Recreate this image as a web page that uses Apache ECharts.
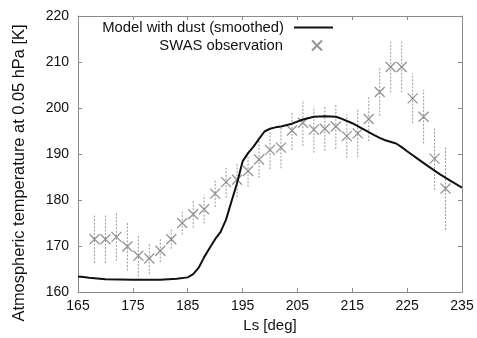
<!DOCTYPE html>
<html>
<head>
<meta charset="utf-8">
<script src="https://cdn.jsdelivr.net/npm/echarts@6/dist/echarts.min.js"></script>
<style>
  html, body { margin: 0; padding: 0; background: #fff; }
  #chart { width: 477px; height: 338px; }
</style>
</head>
<body>
<div id="chart"></div>
<script>
// model curve (smoothed)
var modelLs = [165, 166, 167, 168, 170, 175, 180, 183, 185, 186, 187, 188, 189, 190, 191, 192, 193, 194, 195, 196,
  197, 198, 199, 200, 201, 202, 204, 206, 208, 210, 212, 213, 215, 217, 219, 220, 221, 223, 224, 225, 227, 229, 231, 233, 235];
var modelT = [163.4, 163.3, 163.1, 163.0, 162.8, 162.7, 162.7, 162.9, 163.2, 163.9, 165.3, 167.6, 169.6, 171.5, 173.1, 175.8, 179.8, 183.7, 188.4, 190.2,
  191.6, 193.3, 194.9, 195.5, 195.8, 196.0, 196.6, 197.5, 198.1, 198.2, 198.1, 197.7, 196.7, 195.4, 194.1, 193.5, 193.0, 192.3, 191.5, 190.6, 188.9, 187.2, 185.6, 184.1, 182.7];

// SWAS observation
var obsLs = [168, 170, 172, 174, 176, 178, 180, 182, 184, 186, 188, 190, 192, 194, 196, 198, 200,
  202, 204, 206, 208, 210, 212, 214, 216, 218, 220, 222, 224, 226, 228, 230, 232];
var obsT = [171.5, 171.5, 172.0, 169.9, 167.9, 167.3, 169.0, 171.5, 175.0, 176.9, 178.0, 181.4, 183.9, 184.4, 186.3, 188.8, 190.9,
  191.4, 195.1, 196.8, 195.3, 195.5, 196.0, 193.9, 194.5, 197.6, 203.5, 208.9, 208.9, 202.1, 198.1, 189.0, 182.5];
var obsErr = [5.2, 5.2, 5.2, 5.2, 4.5, 3.4, 2.5, 2.1, 2.5, 2.9, 3.1, 2.9, 3.4, 3.8, 3.4, 4.0, 4.2,
  4.5, 4.2, 5.0, 5.0, 4.8, 4.9, 4.7, 5.2, 4.8, 5.2, 5.5, 5.5, 5.4, 5.8, 6.8, 9.0];

var xTicks = [165, 175, 185, 195, 205, 215, 225, 235];

var modelData = [];
for (var i = 0; i < modelLs.length; i++) {
  modelData.push([modelLs[i], modelT[i]]);
}
var obsData = [];
var errData = [];
for (var j = 0; j < obsLs.length; j++) {
  obsData.push([obsLs[j], obsT[j]]);
  errData.push([obsLs[j], obsT[j] - obsErr[j], obsT[j] + obsErr[j]]);
}

var font = "'Liberation Sans', Arial, sans-serif";
var frame = '#8a8a8a';

var myChart = echarts.init(document.getElementById('chart'));
myChart.setOption({
  animation: false,
  textStyle: { fontFamily: font },
  grid: { left: 78, right: 15, top: 16, bottom: 45 },
  legend: [{
    data: [{ name: 'Model with dust (smoothed)', icon: 'rect' }],
    orient: 'vertical',
    align: 'right',
    right: 139,
    top: 15,
    itemWidth: 39,
    itemHeight: 2,
    itemStyle: { color: '#111' },
    textStyle: { fontSize: 14.8, color: '#111', fontFamily: font, padding: [0, 5, 0, 0] }
  }, {
    data: ['SWAS observation'],
    orient: 'vertical',
    align: 'right',
    right: 149,
    top: 33,
    itemWidth: 10,
    itemHeight: 10,
    textStyle: { fontSize: 14.8, color: '#111', fontFamily: font, padding: [0, 24, 0, 0] }
  }],
  xAxis: [{
    type: 'value',
    min: 165,
    max: 235,
    position: 'bottom',
    name: 'Ls [deg]',
    nameLocation: 'middle',
    nameGap: 24,
    nameTextStyle: { fontSize: 15, color: '#111', fontFamily: font },
    axisLine: { lineStyle: { color: frame, width: 1 } },
    axisTick: { inside: true, length: 4, customValues: xTicks, lineStyle: { color: frame } },
    axisLabel: { customValues: xTicks, fontSize: 14, color: '#111', margin: 7, fontFamily: font },
    splitLine: { show: false }
  }, {
    type: 'value',
    min: 165,
    max: 235,
    position: 'top',
    axisLine: { lineStyle: { color: frame, width: 1 } },
    axisTick: { inside: true, length: 4, customValues: xTicks, lineStyle: { color: frame } },
    axisLabel: { show: false },
    splitLine: { show: false }
  }],
  yAxis: [{
    type: 'value',
    min: 160,
    max: 220,
    interval: 10,
    position: 'left',
    name: 'Atmospheric temperature at 0.05 hPa [K]',
    nameLocation: 'middle',
    nameGap: 51,
    nameTextStyle: { fontSize: 16.4, color: '#111', fontFamily: font, padding: [0, 38, 0, 0] },
    axisLine: { lineStyle: { color: frame, width: 1 } },
    axisTick: { inside: true, length: 4, lineStyle: { color: frame } },
    axisLabel: { fontSize: 14, color: '#111', margin: 9, fontFamily: font },
    splitLine: { show: false }
  }, {
    type: 'value',
    min: 160,
    max: 220,
    interval: 10,
    position: 'right',
    axisLine: { show: true, lineStyle: { color: frame, width: 1 } },
    axisTick: { show: true, inside: true, length: 4, lineStyle: { color: frame } },
    axisLabel: { show: false },
    splitLine: { show: false }
  }],
  series: [{
    name: 'error',
    type: 'custom',
    z: 1,
    silent: true,
    data: errData,
    encode: { x: 0, y: [1, 2] },
    renderItem: function (params, api) {
      var p1 = api.coord([api.value(0), api.value(1)]);
      var p2 = api.coord([api.value(0), api.value(2)]);
      return {
        type: 'line',
        shape: { x1: p1[0], y1: p1[1], x2: p2[0], y2: p2[1] },
        style: { stroke: '#9a9a9a', lineWidth: 1, lineDash: [2, 1.5] }
      };
    }
  }, {
    name: 'SWAS observation',
    type: 'scatter',
    z: 2,
    data: obsData,
    symbol: 'path://M0,0L10,10M10,0L0,10',
    symbolSize: 10,
    itemStyle: { color: 'rgba(0,0,0,0)', borderColor: '#7a7a7a', borderWidth: 1.3 }
  }, {
    name: 'Model with dust (smoothed)',
    type: 'line',
    z: 3,
    data: modelData,
    symbol: 'none',
    lineStyle: { color: '#111', width: 2 },
    itemStyle: { color: '#111' }
  }]
});
</script>
</body>
</html>
